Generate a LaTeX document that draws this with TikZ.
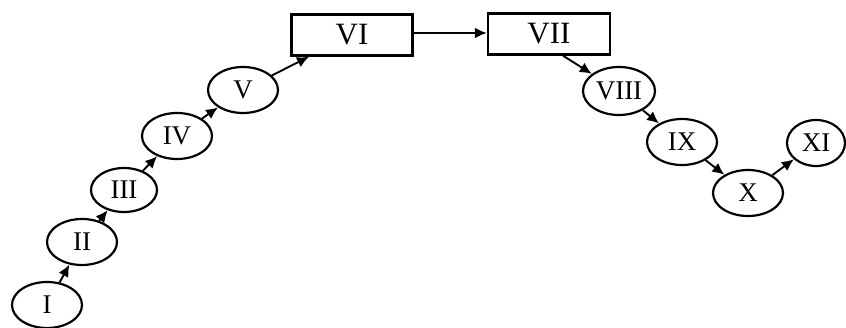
\documentclass[tikz,border=0pt]{standalone}
\usepackage{fontspec}
\setmainfont{Liberation Serif}
\usetikzlibrary{arrows.meta,shapes.geometric}
\begin{document}
\begin{tikzpicture}[x=1pt,y=-1pt,
  stage/.style={draw, line width=2.2pt, ellipse, inner sep=0pt,
    minimum width=70pt, minimum height=46pt,
    font=\fontsize{27}{27}\selectfont},
  block/.style={draw, line width=2.4pt, rectangle, inner sep=0pt,
    minimum width=121pt, minimum height=41pt,
    font=\fontsize{31}{31}\selectfont},
  link/.style={line width=1.9pt, -{Latex[length=12pt,width=11pt]}}]
\useasboundingbox (0,0) rectangle (846,328);
% rising branch
\node[stage] (n1) at (47,305) {I};
\node[stage] (n2) at (82,242) {II};
\node[stage, minimum width=66pt, minimum height=44pt] (n3) at (124,190) {III};
\node[stage] (n4) at (177,136) {IV};
\node[stage] (n5) at (243,90) {V};
% top blocks
\node[block] (n6) at (352,35) {VI};
\node[block, minimum width=122pt] (n7) at (549,34) {VII};
% falling and rising again
\node[stage, minimum width=72pt, minimum height=48pt] (n8) at (619,91) {VIII};
\node[stage] (n9) at (682,142) {IX};
\node[stage] (n10) at (748,193) {X};
\node[stage, minimum width=58pt] (n11) at (816,143) {XI};
% connectors
\draw[link] (n1) -- (n2);
\draw[link] (n2) -- (n3);
\draw[link] (n3) -- (n4);
\draw[link] (n4) -- (n5);
\draw[link] (n5) -- (n6);
\draw[link] (n6.east |- 0,33) -- (n7.west |- 0,33);
\draw[link] ([xshift=14pt]n7.south) -- (n8);
\draw[link] (n8) -- (n9);
\draw[link] (n9) -- (n10);
\draw[link] (n10) -- (n11);
\end{tikzpicture}
\end{document}
